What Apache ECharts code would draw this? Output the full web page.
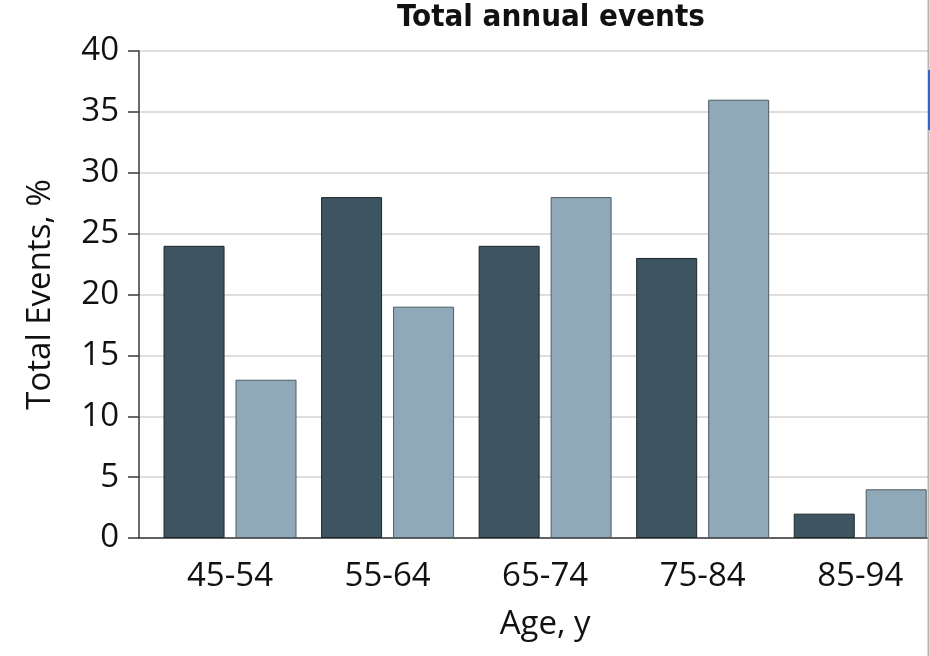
<!DOCTYPE html>
<html>
<head>
<meta charset="utf-8">
<script src="https://cdn.jsdelivr.net/npm/echarts@6/dist/echarts.min.js"></script>
<style>
html,body{margin:0;padding:0;background:#fff;overflow:hidden;width:930px;height:656px;}
#chart{width:939px;height:656px;}
</style>
</head>
<body>
<div id="chart"></div>
<script>
const categories = ['45-54', '55-64', '65-74', '75-84', '85-94'];
const seriesDark = [24, 28, 24, 23, 2];
const seriesLight = [13, 19, 28, 36, 4];
const yTicks = { min: 0, max: 40, interval: 5 };

const FONT = '"Open Sans", "DejaVu Sans", sans-serif';
const chart = echarts.init(document.getElementById('chart'), null, { renderer: 'canvas' });

chart.setOption({
  animation: false,
  backgroundColor: '#ffffff',
  title: {
    text: 'Total annual events',
    left: 546,
    top: -3,
    textAlign: 'center',
    textStyle: {
      fontFamily: '"DejaVu Sans Condensed", sans-serif',
      fontWeight: 'bold',
      fontSize: 31,
      color: '#111'
    }
  },
  grid: [
    { left: 139, top: 51, bottom: 118, right: 11 },
    { left: 151.25, top: 51, bottom: 118, right: 0 }
  ],
  xAxis: [
    {
      gridIndex: 0, type: 'value', min: 0, max: 1,
      axisLine: { show: true, lineStyle: { color: '#3a3a3a', width: 1.5 } },
      axisTick: { show: false }, axisLabel: { show: false }, splitLine: { show: false }
    },
    {
      gridIndex: 1, type: 'category', data: categories,
      axisLine: { show: false }, axisTick: { show: false },
      axisLabel: { margin: 22, fontFamily: FONT, fontSize: 33, color: '#111' },
      name: 'Age, y', nameLocation: 'middle', nameGap: 70,
      nameTextStyle: { fontFamily: FONT, fontSize: 33, color: '#111' }
    }
  ],
  yAxis: [
    {
      gridIndex: 0, type: 'value', min: yTicks.min, max: yTicks.max, interval: yTicks.interval,
      axisLine: { show: true, lineStyle: { color: '#3a3a3a', width: 1.5 } },
      axisTick: { show: true, length: 11, lineStyle: { color: '#3a3a3a', width: 1.5 } },
      axisLabel: { margin: 20, fontFamily: FONT, fontSize: 33, color: '#111' },
      splitLine: { show: true, lineStyle: { color: '#dedede', width: 2 } },
      name: 'Total Events, %', nameLocation: 'middle', nameGap: 82,
      nameTextStyle: { fontFamily: FONT, fontSize: 33, color: '#111' }
    },
    {
      gridIndex: 1, type: 'value', min: yTicks.min, max: yTicks.max, interval: yTicks.interval,
      show: false
    }
  ],
  series: [
    {
      type: 'bar', xAxisIndex: 1, yAxisIndex: 1, data: seriesDark,
      barWidth: 61, barGap: '18%',
      itemStyle: { color: '#3d5560', borderColor: '#1b262b', borderWidth: 1 }
    },
    {
      type: 'bar', xAxisIndex: 1, yAxisIndex: 1, data: seriesLight,
      barWidth: 61, barGap: '18%',
      itemStyle: { color: '#8fa9b8', borderColor: '#4f5a60', borderWidth: 1 }
    }
  ],
  graphic: [
    { type: 'rect', shape: { x: 927.5, y: 0, width: 2, height: 656 }, style: { fill: '#b4b4b4' }, z: 100 },
    { type: 'rect', shape: { x: 928, y: 70, width: 2.5, height: 60 }, style: { fill: '#3563c2' }, z: 101 },
    { type: 'rect', shape: { x: 930, y: 0, width: 12, height: 656 }, style: { fill: '#ffffff' }, z: 99 }
  ]
});
</script>
</body>
</html>
